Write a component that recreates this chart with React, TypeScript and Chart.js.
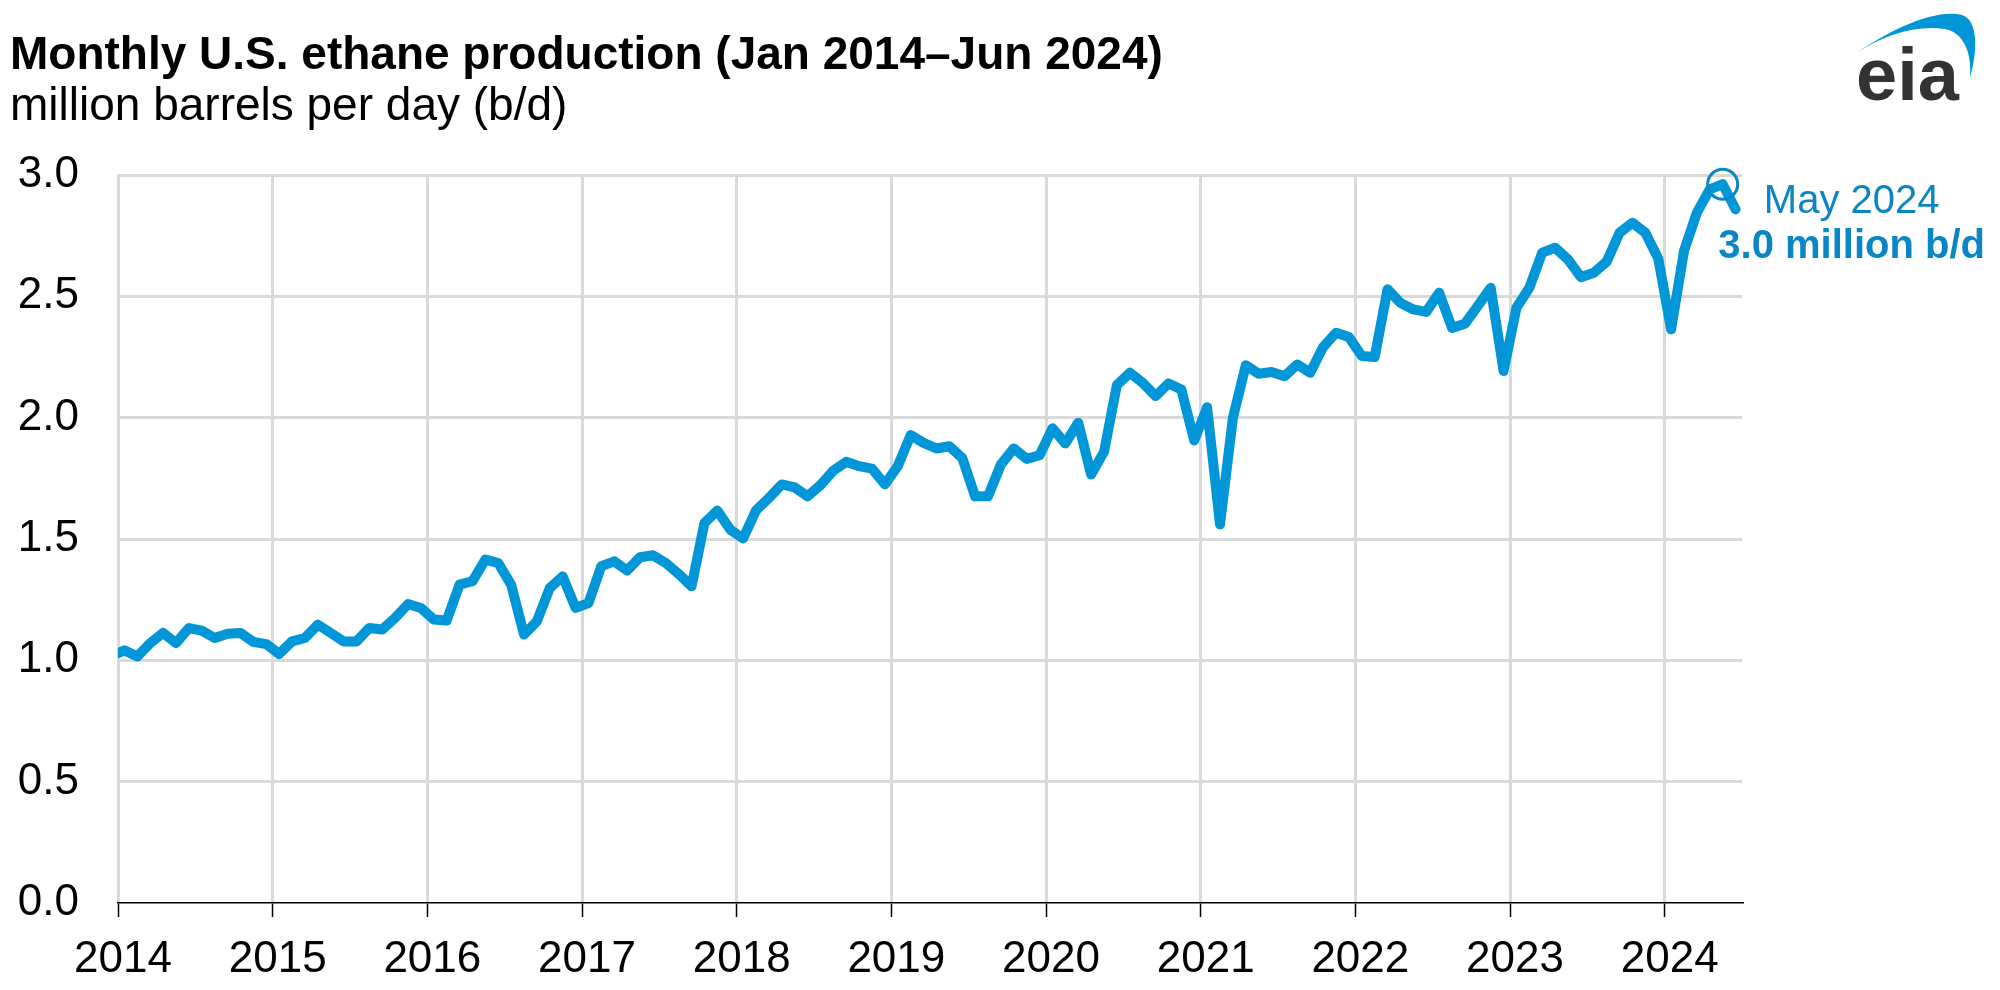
import React, { useEffect, useRef } from "react";
import { Chart, registerables } from "chart.js";

Chart.register(...registerables);

// ---- data (million barrels per day), monthly ----
const yearLabels = ["2014", "2015", "2016", "2017", "2018", "2019", "2020", "2021", "2022", "2023", "2024"];
const dec2013 = 1.019; // lead-in value, clipped at the left edge
const v2014 = [1.041, 1.016, 1.071, 1.113, 1.071, 1.133, 1.122, 1.092, 1.11, 1.113, 1.076, 1.067];
const v2015 = [1.026, 1.078, 1.092, 1.147, 1.113, 1.078, 1.078, 1.133, 1.127, 1.175, 1.232, 1.216];
const v2016 = [1.168, 1.164, 1.312, 1.326, 1.415, 1.401, 1.312, 1.106, 1.161, 1.298, 1.346, 1.216];
const v2017 = [1.236, 1.388, 1.408, 1.37, 1.425, 1.433, 1.401, 1.356, 1.305, 1.566, 1.617, 1.539];
const v2018 = [1.502, 1.618, 1.669, 1.725, 1.713, 1.676, 1.722, 1.782, 1.818, 1.8, 1.79, 1.725];
const v2019 = [1.8, 1.928, 1.896, 1.873, 1.882, 1.834, 1.676, 1.676, 1.807, 1.873, 1.83, 1.845];
const v2020 = [1.956, 1.894, 1.979, 1.766, 1.859, 2.134, 2.185, 2.144, 2.089, 2.141, 2.116, 1.906];
const v2021 = [2.043, 1.56, 1.999, 2.216, 2.181, 2.188, 2.171, 2.219, 2.185, 2.291, 2.35, 2.332];
const v2022 = [2.254, 2.25, 2.529, 2.473, 2.446, 2.436, 2.515, 2.37, 2.387, 2.46, 2.535, 2.192];
const v2023 = [2.453, 2.535, 2.68, 2.7, 2.652, 2.579, 2.597, 2.643, 2.762, 2.803, 2.762, 2.656];
const v2024 = [2.364, 2.687, 2.845, 2.941, 2.962, 2.859];

const values = [
  ...v2014, ...v2015, ...v2016, ...v2017, ...v2018, ...v2019,
  ...v2020, ...v2021, ...v2022, ...v2023, ...v2024,
];
const monthsOnAxis = 126; // Jan 2014 .. end of Jun 2024
const yTickValues = [0, 0.5, 1.0, 1.5, 2.0, 2.5, 3.0];

const annotationIndex = 124; // May 2024
const annotationMonth = "May 2024";
const annotationValue = "3.0 million b/d";

const titleText = "Monthly U.S. ethane production (Jan 2014\u2013Jun 2024)";
const subtitleText = "million barrels per day (b/d)";

// ---- styles ----
const FONT = '"Liberation Sans", Arial, Helvetica, sans-serif';
const LINE_BLUE = "#0096D7";
const TEXT_BLUE = "#0A85C5";
const GRID = "#D9D9D9";

const annotationPlugin = {
  id: "annotText",
  afterDatasetsDraw(chart: any) {
    const meta = chart.getDatasetMeta(0);
    const pt = meta.data[0];
    if (!pt) return;
    const ctx = chart.ctx;
    ctx.save();
    ctx.fillStyle = TEXT_BLUE;
    ctx.textAlign = "center";
    ctx.textBaseline = "alphabetic";
    ctx.font = `40px ${FONT}`;
    ctx.fillText(annotationMonth, pt.x + 129, pt.y + 29);
    ctx.font = `bold 40px ${FONT}`;
    ctx.fillText(annotationValue, pt.x + 129, pt.y + 74);
    ctx.restore();
  },
};

export default function App() {
  const canvasRef = useRef<HTMLCanvasElement | null>(null);

  useEffect(() => {
    const canvas = canvasRef.current;
    if (!canvas) return;

    const lineData = [
      { x: -0.5, y: dec2013 },
      ...values.map((v, i) => ({ x: i + 0.5, y: v })),
    ];
    const markerData = [{ x: annotationIndex + 0.5, y: values[annotationIndex] }];

    const chart = new Chart(canvas, {
      type: "line",
      data: {
        datasets: [
          {
            data: markerData,
            showLine: false,
            pointRadius: 15,
            pointHoverRadius: 15,
            pointBorderWidth: 3,
            pointBorderColor: TEXT_BLUE,
            pointBackgroundColor: "rgba(0,0,0,0)",
            clip: false,
          } as any,
          {
            data: lineData,
            borderColor: LINE_BLUE,
            borderWidth: 10,
            pointRadius: 0,
            pointHoverRadius: 0,
            tension: 0,
            fill: false,
            borderJoinStyle: "round",
            borderCapStyle: "round",
          } as any,
        ],
      },
      options: {
        responsive: false,
        animation: false,
        devicePixelRatio: 1,
        events: [],
        layout: { padding: { top: 175, right: 258, left: 0, bottom: 0 } },
        plugins: {
          legend: { display: false },
          tooltip: { enabled: false },
          title: { display: false },
        },
        scales: {
          x: {
            type: "linear",
            min: 0,
            max: monthsOnAxis,
            afterBuildTicks: (scale: any) => {
              scale.ticks = yearLabels.map((_, i) => ({ value: i * 12 }));
            },
            afterFit: (scale: any) => {
              scale.height = 87;
            },
            ticks: {
              autoSkip: false,
              maxRotation: 0,
              minRotation: 0,
              padding: 16,
              labelOffset: 5,
              color: "#000",
              font: { family: FONT, size: 44 },
              callback: (_v: any, i: number) => yearLabels[i],
            },
            grid: {
              color: GRID,
              lineWidth: 3,
              tickColor: "#000",
              tickWidth: 1.5,
              tickLength: 14,
            },
            border: { display: true, color: "#000", width: 1.5 },
          },
          y: {
            type: "linear",
            min: 0,
            max: 3,
            afterBuildTicks: (scale: any) => {
              scale.ticks = yTickValues.map((v) => ({ value: v }));
            },
            afterFit: (scale: any) => {
              scale.width = 118;
            },
            ticks: {
              padding: 39,
              color: "#000",
              font: { family: FONT, size: 44 },
              callback: (v: any) => Number(v).toFixed(1),
            },
            grid: {
              color: (c: any) => (c.tick && c.tick.value === 0 ? "rgba(0,0,0,0)" : GRID),
              lineWidth: 3,
              drawTicks: false,
            },
            border: { display: false },
          },
        },
      } as any,
      plugins: [annotationPlugin],
    });

    return () => chart.destroy();
  }, []);

  return (
    <div
      style={{
        position: "absolute",
        left: 0,
        top: 0,
        width: 2000,
        height: 990,
        background: "#fff",
        overflow: "hidden",
      }}
    >
      <canvas
        ref={canvasRef}
        width={2000}
        height={990}
        style={{ position: "absolute", left: 0, top: 0, width: 2000, height: 990 }}
      />
      <div
        style={{
          position: "absolute",
          left: 10,
          top: 30,
          font: `bold 46px ${FONT}`,
          lineHeight: "46px",
          whiteSpace: "nowrap",
          color: "#000",
        }}
      >
        {titleText}
      </div>
      <div
        style={{
          position: "absolute",
          left: 10,
          top: 81,
          font: `46px ${FONT}`,
          lineHeight: "46px",
          whiteSpace: "nowrap",
          color: "#000",
        }}
      >
        {subtitleText}
      </div>
      <svg
        width={160}
        height={110}
        viewBox="0 0 160 110"
        style={{ position: "absolute", left: 1840, top: 0 }}
      >
        <path
          d="M 18 52 C 50 30, 95 8, 122 15 C 138 20, 138 50, 130 78 C 132 55, 125 33, 105 29 C 75 25, 45 35, 18 52 Z"
          fill={LINE_BLUE}
        />
        <text
          x={16}
          y={100}
          fill="#333333"
          style={{ font: `bold 74px ${FONT}` }}
        >
          eia
        </text>
      </svg>
    </div>
  );
}
